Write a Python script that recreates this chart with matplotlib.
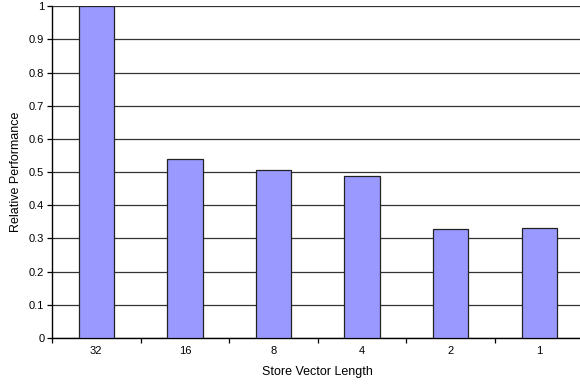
import numpy as np
import matplotlib.pyplot as plt

# Data
vector_lengths = ['32', '16', '8', '4', '2', '1']
relative_perf = [1.0, 0.539, 0.507, 0.487, 0.328, 0.331]
y_ticks = [0, 0.1, 0.2, 0.3, 0.4, 0.5, 0.6, 0.7, 0.8, 0.9, 1]
y_tick_labels = ['0', '0.1', '0.2', '0.3', '0.4', '0.5', '0.6', '0.7', '0.8', '0.9', '1']

plt.rcParams['font.family'] = ['Liberation Sans', 'DejaVu Sans']

fig = plt.figure(figsize=(5.8, 3.87), dpi=100)
ax = fig.add_axes([52 / 580, 1 - 338 / 387, 531.6 / 580, 331.7 / 387])

x = np.arange(len(vector_lengths))
ax.bar(x, relative_perf, width=0.4, color='#9999FF', edgecolor='#222222',
       linewidth=0.9, zorder=3)

# Gridlines
ax.set_axisbelow(True)
ax.yaxis.grid(True, color='#333333', linewidth=0.9, zorder=0)

ax.set_xlim(-0.5, len(vector_lengths) - 0.5)
ax.set_ylim(0, 1)
ax.set_yticks(y_ticks)
ax.set_yticklabels(y_tick_labels)

# Category labels centred, tick marks between categories
ax.set_xticks(x)
ax.set_xticklabels(vector_lengths)
ax.set_xticks(np.arange(len(vector_lengths)) - 0.5, minor=True)
ax.tick_params(axis='x', which='major', length=0, pad=6, labelsize=8)
ax.tick_params(axis='x', which='minor', length=3.5, width=0.9, direction='out', colors='black')
ax.tick_params(axis='y', length=3.5, width=0.9, direction='out', labelsize=8, pad=2)

for side in ['top', 'right']:
    ax.spines[side].set_visible(False)
ax.spines['left'].set_linewidth(1.0)
ax.spines['bottom'].set_linewidth(1.0)

ax.set_xlabel('Store Vector Length', fontsize=9, labelpad=7)
ax.set_ylabel('Relative Performance', fontsize=9, labelpad=5)

fig.savefig('out.png', dpi=100)
